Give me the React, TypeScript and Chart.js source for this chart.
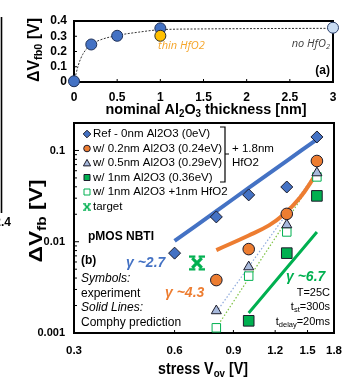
import React, { useEffect, useRef } from 'react';
import { Chart, registerables } from 'chart.js';
Chart.register(...registerables);

// ---------- Panel (a) ----------
const THICK_X = [0, 0.2, 0.5, 1];
const VFB0_HFO2 = [0.005, 0.246, 0.303, 0.352];
const THIN_X = [1];
const THIN_Y = [0.303];
const NOHF_X = [3];
const NOHF_Y = [0.356];
const FIT_X = [0, 0.05, 0.1, 0.2, 0.3, 0.5, 0.75, 1, 1.5, 2, 3];
const FIT_Y = [0, 0.11, 0.18, 0.245, 0.275, 0.305, 0.327, 0.343, 0.348, 0.35, 0.352];
const A_XTICKS = [0, 0.5, 1, 1.5, 2, 2.5, 3];
const A_YTICKS = [0, 0.1, 0.2, 0.3, 0.4];

// ---------- Panel (b) ----------
const VOV_REF = [0.6, 0.8, 1.0, 1.3, 1.6];
const DV_REF = [0.0075, 0.0187, 0.0326, 0.0398, 0.1406];
const VOV_4 = [0.8, 1.0, 1.3, 1.6];
const DV_02 = [0.0038, 0.0083, 0.0202, 0.0767];
const DV_05 = [0.00175, 0.0053, 0.0153, 0.0568];
const DV_1HF = [0.00114, 0.0042, 0.0128, 0.0513];
const VOV_3 = [1.0, 1.3, 1.6];
const DV_1 = [0.00136, 0.0075, 0.0318];
const TARGET_X = [0.7];
const TARGET_Y = [0.00586];
const PRED_REF_X = [0.6, 0.8, 1.0, 1.3, 1.59];
const PRED_REF_Y = [0.0102, 0.0216, 0.039, 0.077, 0.13];
const PRED_02_X = [0.8, 1.0, 1.15, 1.27, 1.425, 1.58];
const PRED_02_Y = [0.0081, 0.0117, 0.0151, 0.0197, 0.0305, 0.053];
const PRED_1_X = [1.0, 1.6];
const PRED_1_Y = [0.00166, 0.0128];
const GUIDE_05_X = [0.8, 1.58];
const GUIDE_05_Y = [0.0017, 0.055];
const GUIDE_1HF_X = [0.8, 1.58];
const GUIDE_1HF_Y = [0.00114, 0.051];
const B_XTICKS = [0.3, 0.6, 0.9, 1.2, 1.5, 1.8];
const B_YLABELS = [0.001, 0.01, 0.1];
const LEGEND_LABELS = [
  'Ref - 0nm Al2O3 (0eV)',
  'w/ 0.2nm Al2O3 (0.24eV)',
  'w/ 0.5nm Al2O3 (0.29eV)',
  'w/ 1nm Al2O3 (0.36eV)',
  'w/ 1nm Al2O3 +1nm HfO2',
  'target',
];

const FONT = '"Liberation Sans", Arial, Helvetica, sans-serif';
const BLUE = '#4472C4';
const ORANGE = '#ED7D31';
const GREEN = '#00B050';
const TRI = '#A7B9DC';
const EDGE = '#1b1b2a';

type Seg = { t: string; sub?: boolean };

function rich(
  ctx: CanvasRenderingContext2D,
  segs: Seg[],
  x: number,
  y: number,
  size: number,
  weight: string,
  style: string,
  align: 'left' | 'center' | 'right',
  color: string,
  family: string = FONT,
  fitW: number = 0
) {
  const f = (s: number) => `${style} ${weight} ${s}px ${family}`;
  let w = 0;
  const ws = segs.map((s) => {
    ctx.font = f(s.sub ? size * 0.68 : size);
    const m = ctx.measureText(s.t).width;
    w += m;
    return m;
  });
  const k = fitW > 0 ? fitW / w : 1;
  const total = w * k;
  let cx = align === 'center' ? x - total / 2 : align === 'right' ? x - total : x;
  ctx.fillStyle = color;
  ctx.textBaseline = 'middle';
  ctx.textAlign = 'left';
  segs.forEach((s, i) => {
    ctx.font = f(s.sub ? size * 0.68 : size);
    ctx.save();
    ctx.translate(cx, s.sub ? y + size * 0.3 : y);
    ctx.scale(k, 1);
    ctx.fillText(s.t, 0, 0);
    ctx.restore();
    cx += ws[i] * k;
  });
}

function makeTarget(size: number, color: string): HTMLCanvasElement {
  const c = document.createElement('canvas');
  c.width = size;
  c.height = size;
  const g = c.getContext('2d') as CanvasRenderingContext2D;
  g.strokeStyle = color;
  const p = size * 0.2;
  g.lineWidth = size * 0.2;
  g.beginPath();
  g.moveTo(p, p);
  g.lineTo(size - p, size - p);
  g.moveTo(size - p, p);
  g.lineTo(p, size - p);
  g.stroke();
  g.lineWidth = size * 0.14;
  g.beginPath();
  g.moveTo(0, p * 0.5);
  g.lineTo(p * 2, p * 0.5);
  g.moveTo(size - p * 2, p * 0.5);
  g.lineTo(size, p * 0.5);
  g.moveTo(0, size - p * 0.5);
  g.lineTo(p * 2, size - p * 0.5);
  g.moveTo(size - p * 2, size - p * 0.5);
  g.lineTo(size, size - p * 0.5);
  g.stroke();
  return c;
}

function marker(ctx: CanvasRenderingContext2D, kind: string, x: number, y: number, r: number, tgt?: HTMLCanvasElement) {
  ctx.save();
  ctx.lineWidth = 1;
  ctx.beginPath();
  if (kind === 'diamond') {
    ctx.moveTo(x, y - r);
    ctx.lineTo(x + r, y);
    ctx.lineTo(x, y + r);
    ctx.lineTo(x - r, y);
    ctx.closePath();
    ctx.fillStyle = BLUE;
    ctx.strokeStyle = EDGE;
    ctx.fill();
    ctx.stroke();
  } else if (kind === 'circle') {
    ctx.arc(x, y, r, 0, Math.PI * 2);
    ctx.fillStyle = ORANGE;
    ctx.strokeStyle = EDGE;
    ctx.fill();
    ctx.stroke();
  } else if (kind === 'triangle') {
    ctx.moveTo(x, y - r);
    ctx.lineTo(x + r, y + r * 0.8);
    ctx.lineTo(x - r, y + r * 0.8);
    ctx.closePath();
    ctx.fillStyle = TRI;
    ctx.strokeStyle = EDGE;
    ctx.fill();
    ctx.stroke();
  } else if (kind === 'square') {
    ctx.rect(x - r, y - r, 2 * r, 2 * r);
    ctx.fillStyle = GREEN;
    ctx.strokeStyle = EDGE;
    ctx.fill();
    ctx.stroke();
  } else if (kind === 'open') {
    ctx.rect(x - r, y - r, 2 * r, 2 * r);
    ctx.fillStyle = '#fff';
    ctx.strokeStyle = GREEN;
    ctx.fill();
    ctx.stroke();
  } else if (kind === 'target' && tgt) {
    ctx.drawImage(tgt, x - r, y - r, 2 * r, 2 * r);
  }
  ctx.restore();
}

const pts = (xs: number[], ys: number[]) => xs.map((x, i) => ({ x, y: ys[i] }));

export default function App() {
  const topRef = useRef<HTMLCanvasElement>(null);
  const botRef = useRef<HTMLCanvasElement>(null);

  useEffect(() => {
    const charts: Chart[] = [];
    const tickFont = (size: number) => ({ family: FONT, size, weight: 'bold' as const });

    // ---------------- top chart (a) ----------------
    const topPlugin = {
      id: 'topDeco',
      beforeDatasetsDraw(chart: any) {
        const { ctx, chartArea: a, scales } = chart;
        ctx.save();
        ctx.strokeStyle = '#000';
        ctx.lineWidth = 2;
        ctx.strokeRect(a.left, a.top, a.right - a.left, a.bottom - a.top);
        ctx.lineWidth = 1;
        ctx.beginPath();
        A_XTICKS.slice(1, -1).forEach((v) => {
          const px = scales.x.getPixelForValue(v);
          ctx.moveTo(px, a.bottom);
          ctx.lineTo(px, a.bottom - 3);
        });
        A_YTICKS.slice(1, -1).forEach((v) => {
          const py = scales.y.getPixelForValue(v);
          ctx.moveTo(a.left, py);
          ctx.lineTo(a.left + 3, py);
        });
        ctx.stroke();
        ctx.restore();
      },
      afterDraw(chart: any) {
        const { ctx } = chart;
        ctx.save();
        ctx.translate(34, 50);
        ctx.rotate(-Math.PI / 2);
        rich(ctx, [{ t: 'ΔV' }, { t: 'fb0', sub: true }, { t: ' [V]' }], 0, 0, 17, 'bold', 'normal', 'center', '#000', FONT, 64);
        ctx.restore();
        ctx.save();
        rich(
          ctx,
          [{ t: 'nominal Al' }, { t: '2', sub: true }, { t: 'O' }, { t: '3', sub: true }, { t: ' thickness [nm]' }],
          206,
          110,
          15,
          'bold',
          'normal',
          'center',
          '#000',
          FONT,
          201
        );
        rich(ctx, [{ t: 'thin HfO2' }], 158, 46, 11, 'normal', 'italic', 'left', '#F5A52A', '"Open Sans", sans-serif');
        rich(ctx, [{ t: 'no HfO' }, { t: '2', sub: true }], 330, 44, 11, 'normal', 'italic', 'right', '#404040', '"Open Sans", sans-serif');
        rich(ctx, [{ t: '(a)' }], 330, 71, 12, 'bold', 'normal', 'right', '#000');
        ctx.restore();
      },
    };

    if (topRef.current) {
      charts.push(
        new Chart(topRef.current, {
          type: 'scatter',
          data: {
            datasets: [
              { data: pts(NOHF_X, NOHF_Y), backgroundColor: '#C9DCF2', borderColor: '#2B3F6B', borderWidth: 1, pointRadius: 5.5, clip: false } as any,
              { data: pts(THIN_X, THIN_Y), backgroundColor: '#FFC000', borderColor: '#2B2B2B', borderWidth: 1, pointRadius: 5.5, clip: false } as any,
              { data: pts(THICK_X, VFB0_HFO2), backgroundColor: BLUE, borderColor: '#1F3057', borderWidth: 1, pointRadius: 5.5, clip: false } as any,
              {
                data: pts(FIT_X, FIT_Y),
                showLine: true,
                pointRadius: 0,
                borderColor: '#333',
                borderWidth: 1,
                borderDash: [2, 1.5],
                cubicInterpolationMode: 'monotone',
              } as any,
            ],
          },
          options: {
            responsive: false,
            animation: false,
            devicePixelRatio: 1,
            layout: { padding: { left: 0, top: 21, right: 25, bottom: 0 } },
            plugins: { legend: { display: false }, tooltip: { enabled: false } },
            scales: {
              x: {
                type: 'linear',
                min: 0,
                max: 3,
                afterBuildTicks: (s: any) => {
                  s.ticks = A_XTICKS.map((v) => ({ value: v }));
                },
                afterFit: (s: any) => {
                  s.height = 36;
                },
                grid: { display: false, drawTicks: false },
                border: { display: false },
                ticks: { padding: 8, font: tickFont(12), color: '#000', maxRotation: 0, autoSkip: false, callback: (v: any) => String(v) },
              },
              y: {
                type: 'linear',
                min: 0,
                max: 0.4,
                afterBuildTicks: (s: any) => {
                  s.ticks = A_YTICKS.map((v) => ({ value: v }));
                },
                afterFit: (s: any) => {
                  s.width = 74;
                },
                grid: { display: false, drawTicks: false },
                border: { display: false },
                ticks: { padding: 7, font: tickFont(12), color: '#000', autoSkip: false, callback: (v: any) => String(+(+v).toFixed(1)) },
              },
            },
          } as any,
          plugins: [topPlugin],
        })
      );
    }

    // ---------------- bottom chart (b) ----------------
    const tgtImg = makeTarget(16, GREEN);
    const tgtSmall = makeTarget(10, GREEN);
    const botPlugin = {
      id: 'botDeco',
      beforeDatasetsDraw(chart: any) {
        const { ctx, chartArea: a, scales } = chart;
        ctx.save();
        ctx.strokeStyle = '#000';
        ctx.lineWidth = 2;
        ctx.strokeRect(a.left, a.top, a.right - a.left, a.bottom - a.top);
        ctx.lineWidth = 1;
        ctx.beginPath();
        B_XTICKS.slice(1, -1).forEach((v) => {
          const px = scales.x.getPixelForValue(v);
          ctx.moveTo(px, a.bottom);
          ctx.lineTo(px, a.bottom - 3);
        });
        for (let d = -3; d <= -1; d++) {
          for (let k = 1; k <= 9; k++) {
            const v = k * Math.pow(10, d);
            if (v > 0.2 || (d === -3 && k === 1)) continue;
            const py = scales.y.getPixelForValue(v);
            ctx.moveTo(a.left, py);
            ctx.lineTo(a.left + (k === 1 ? 5 : 3), py);
          }
        }
        ctx.stroke();
        ctx.restore();
      },
      afterDraw(chart: any) {
        const { ctx } = chart;
        ctx.save();
        // fragment of the neighbouring panel at the far left edge
        ctx.strokeStyle = '#000';
        ctx.lineWidth = 1.6;
        ctx.beginPath();
        ctx.moveTo(1.5, 17);
        ctx.lineTo(1.5, 213);
        ctx.stroke();
        rich(ctx, [{ t: '2.4' }], 11, 223, 12, 'bold', 'normal', 'right', '#000');

        ctx.translate(37, 221);
        ctx.rotate(-Math.PI / 2);
        rich(ctx, [{ t: 'ΔV' }, { t: 'fb', sub: true }, { t: ' [V]' }], 0, 0, 19, 'bold', 'normal', 'center', '#000', FONT, 83);
        ctx.restore();
        ctx.save();
        rich(ctx, [{ t: 'stress V' }, { t: 'ov', sub: true }, { t: ' [V]' }], 203, 369, 16.5, 'bold', 'normal', 'center', '#000', FONT, 90);

        // legend
        const rows = [134, 148.5, 163, 177.5, 192, 207];
        const kinds = ['diamond', 'circle', 'triangle', 'square', 'open', 'target'];
        const rs = [3.8, 3.3, 3.6, 3, 3, 4];
        rows.forEach((y, i) => {
          marker(ctx, kinds[i], 87, y, rs[i], tgtSmall);
          rich(ctx, [{ t: LEGEND_LABELS[i] }], 93, y, 11.5, 'normal', 'normal', 'left', '#000');
        });
        ctx.strokeStyle = '#000';
        ctx.lineWidth = 1.2;
        ctx.beginPath();
        ctx.moveTo(220, 127);
        ctx.lineTo(225, 127);
        ctx.lineTo(225, 182);
        ctx.lineTo(220, 182);
        ctx.moveTo(225, 154);
        ctx.lineTo(229, 154);
        ctx.stroke();
        rich(ctx, [{ t: '+ 1.8nm' }], 232, 149, 11.5, 'normal', 'normal', 'left', '#000');
        rich(ctx, [{ t: 'HfO2' }], 232, 163, 11.5, 'normal', 'normal', 'left', '#000');

        rich(ctx, [{ t: 'pMOS NBTI' }], 88, 237, 12, 'bold', 'normal', 'left', '#000');
        rich(ctx, [{ t: '(b)' }], 81, 261, 12, 'bold', 'normal', 'left', '#000');
        rich(ctx, [{ t: 'γ ~2.7' }], 126, 263, 14, 'bold', 'italic', 'left', BLUE);
        rich(ctx, [{ t: 'γ ~4.3' }], 165, 293, 14, 'bold', 'italic', 'left', ORANGE);
        rich(ctx, [{ t: 'γ ~6.7' }], 286, 277, 14, 'bold', 'italic', 'left', GREEN);
        rich(ctx, [{ t: 'Symbols:' }], 81, 279, 12, 'normal', 'italic', 'left', '#000');
        rich(ctx, [{ t: 'experiment' }], 81, 294, 12, 'normal', 'normal', 'left', '#000');
        rich(ctx, [{ t: 'Solid Lines:' }], 81, 308, 12, 'normal', 'italic', 'left', '#000');
        rich(ctx, [{ t: 'Comphy prediction' }], 81, 323, 12, 'normal', 'normal', 'left', '#000');
        rich(ctx, [{ t: 'T=25C' }], 330, 293, 11, 'normal', 'normal', 'right', '#000');
        rich(ctx, [{ t: 't' }, { t: 'st', sub: true }, { t: '=300s' }], 330, 307, 11, 'normal', 'normal', 'right', '#000');
        rich(ctx, [{ t: 't' }, { t: 'delay', sub: true }, { t: '=20ms' }], 330, 322, 11, 'normal', 'normal', 'right', '#000');
        ctx.restore();
      },
    };

    const mk = (xs: number[], ys: number[], style: any, bg: string, bc: string, r: number, bw = 1) =>
      ({ data: pts(xs, ys), pointStyle: style, backgroundColor: bg, borderColor: bc, pointBorderWidth: bw, pointRadius: r, showLine: false, clip: false } as any);
    const ln = (xs: number[], ys: number[], color: string, w: number, dash?: number[]) =>
      ({ data: pts(xs, ys), showLine: true, pointRadius: 0, borderColor: color, borderWidth: w, borderDash: dash || [], tension: 0.4, borderCapStyle: 'butt' } as any);

    if (botRef.current) {
      charts.push(
        new Chart(botRef.current, {
          type: 'scatter',
          data: {
            datasets: [
              mk(TARGET_X, TARGET_Y, tgtImg, GREEN, GREEN, 8),
              mk(VOV_REF, DV_REF, 'rectRot', BLUE, EDGE, 6),
              mk(VOV_4, DV_02, 'circle', ORANGE, EDGE, 5.8),
              mk(VOV_3, DV_1, 'rect', GREEN, EDGE, 7.5),
              mk(VOV_4, DV_05, 'triangle', TRI, EDGE, 5.8),
              mk(VOV_4, DV_1HF, 'rect', '#fff', GREEN, 6),
              ln(PRED_REF_X, PRED_REF_Y, BLUE, 4),
              ln(PRED_02_X, PRED_02_Y, ORANGE, 4),
              ln(PRED_1_X, PRED_1_Y, GREEN, 3),
              ln(GUIDE_05_X, GUIDE_05_Y, '#8FAADC', 1.2, [1.5, 2]),
              ln(GUIDE_1HF_X, GUIDE_1HF_Y, '#7DC242', 1.2, [1.5, 2]),
            ],
          },
          options: {
            responsive: false,
            animation: false,
            devicePixelRatio: 1,
            layout: { padding: { left: 0, top: 123, right: 24, bottom: 0 } },
            plugins: { legend: { display: false }, tooltip: { enabled: false } },
            scales: {
              x: {
                type: 'logarithmic',
                min: 0.3,
                max: 1.8,
                afterBuildTicks: (s: any) => {
                  s.ticks = B_XTICKS.map((v) => ({ value: v }));
                },
                afterFit: (s: any) => {
                  s.height = 46;
                },
                grid: { display: false, drawTicks: false },
                border: { display: false },
                ticks: { padding: 11, font: tickFont(11.5), color: '#000', maxRotation: 0, autoSkip: false, callback: (v: any) => String(+(+v).toFixed(1)) },
              },
              y: {
                type: 'logarithmic',
                min: 0.001,
                max: 0.2,
                afterBuildTicks: (s: any) => {
                  s.ticks = B_YLABELS.map((v) => ({ value: v }));
                },
                afterFit: (s: any) => {
                  s.width = 74;
                },
                grid: { display: false, drawTicks: false },
                border: { display: false },
                ticks: { padding: 9, font: tickFont(11), color: '#000', autoSkip: false, callback: (v: any) => String(v) },
              },
            },
          } as any,
          plugins: [botPlugin],
        })
      );
    }

    return () => charts.forEach((c) => c.destroy());
  }, []);

  return (
    <div style={{ position: 'absolute', left: 0, top: 0, width: 358, height: 379, background: '#fff', overflow: 'hidden' }}>
      <canvas ref={botRef} width={358} height={379} style={{ position: 'absolute', left: 0, top: 0, width: 358, height: 379 }} />
      <canvas ref={topRef} width={358} height={118} style={{ position: 'absolute', left: 0, top: 0, width: 358, height: 118 }} />
    </div>
  );
}
